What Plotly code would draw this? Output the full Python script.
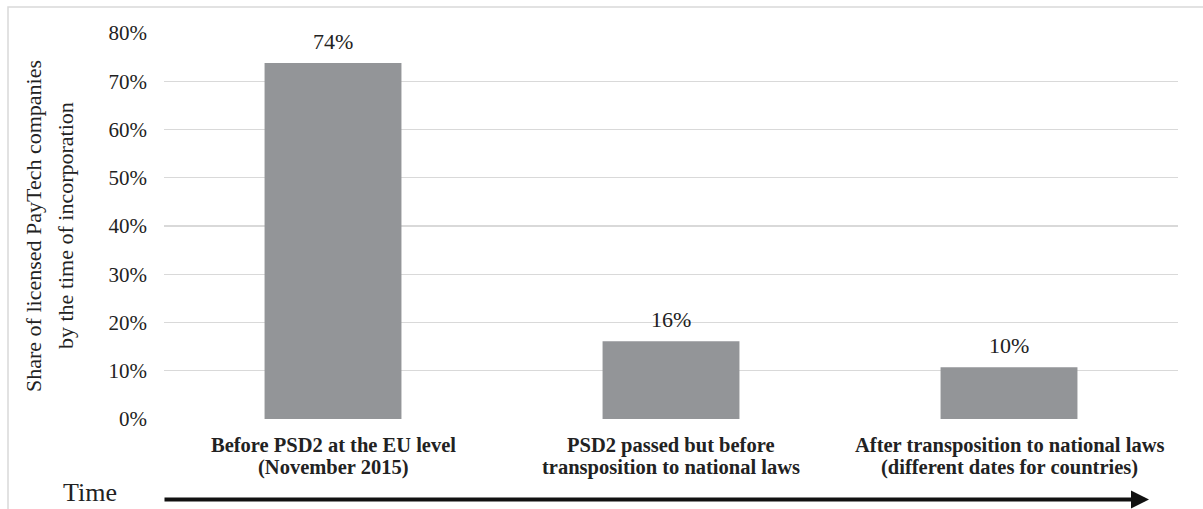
import plotly.graph_objects as go

cat_line1 = [
    "Before PSD2 at the EU level",
    "PSD2 passed but before",
    "After transposition to national laws",
]
cat_line2 = [
    "(November 2015)",
    "transposition to national laws",
    "(different dates for countries)",
]
categories = [a + " " + b for a, b in zip(cat_line1, cat_line2)]
shares = [0.738, 0.161, 0.107]
share_labels = ["74%", "16%", "10%"]
y_ticks = [0, 0.1, 0.2, 0.3, 0.4, 0.5, 0.6, 0.7, 0.8]
y_ticktext = ["0%", "10%", "20%", "30%", "40%", "50%", "60%", "70%", "80%"]

FONT = "Liberation Serif"
TXT = "#222222"

# plot area geometry (pixels)
L, R, T, B = 164, 1178, 33, 419.5
W, H = 1203, 509
PW, PH = R - L, B - T


def px(x):
    return (x - L) / PW


def py(y):
    return (B - y) / PH


fig = go.Figure(
    go.Bar(
        x=categories,
        y=shares,
        marker=dict(color="#939598", line=dict(width=0)),
        width=0.405,
        hoverinfo="skip",
    )
)

fig.update_layout(
    width=W,
    height=H,
    margin=dict(l=L, r=W - R, t=T, b=H - B),
    paper_bgcolor="white",
    plot_bgcolor="white",
    showlegend=False,
    font=dict(family=FONT, color=TXT),
    xaxis=dict(
        type="category",
        showgrid=False,
        showline=False,
        zeroline=False,
        showticklabels=False,
        ticks="",
    ),
    yaxis=dict(
        range=[0, 0.8],
        tickvals=y_ticks,
        ticktext=y_ticktext,
        showgrid=True,
        gridcolor="#d9d9d9",
        gridwidth=1.3,
        zeroline=False,
        showline=False,
        ticks="",
        tickfont=dict(family=FONT, size=21, color=TXT),
        ticklabelstandoff=16,
    ),
)

# value labels above bars
for c, v, lab in zip(categories, shares, share_labels):
    fig.add_annotation(
        x=c, y=v, xref="x", yref="y",
        text=lab, showarrow=False,
        xanchor="center", yanchor="bottom", yshift=7,
        font=dict(family=FONT, size=22, color=TXT),
    )

# category labels (two tight lines, bold)
for c, l1, l2 in zip(categories, cat_line1, cat_line2):
    fig.add_annotation(
        x=c, y=py(446), xref="x", yref="paper",
        text="<b>" + l1 + "</b>", showarrow=False,
        xanchor="center", yanchor="middle",
        font=dict(family=FONT, size=20.5, color=TXT),
    )
    fig.add_annotation(
        x=c, y=py(468), xref="x", yref="paper",
        text="<b>" + l2 + "</b>", showarrow=False,
        xanchor="center", yanchor="middle",
        font=dict(family=FONT, size=20.5, color=TXT),
    )

# y-axis title as two rotated lines
for xc, t in [(33, "Share of licensed PayTech companies"),
              (65, "by the time of incorporation")]:
    fig.add_annotation(
        text=t, xref="paper", yref="paper",
        x=px(xc), y=0.5,
        xanchor="center", yanchor="middle",
        textangle=-90, showarrow=False,
        font=dict(family=FONT, size=22, color=TXT),
    )

# Time label and arrow
fig.add_annotation(
    text="Time", xref="paper", yref="paper",
    x=px(62), y=py(508.5),
    xanchor="left", yanchor="bottom",
    borderpad=0,
    showarrow=False,
    font=dict(family=FONT, size=26, color=TXT),
)
fig.add_annotation(
    xref="paper", yref="paper",
    x=px(1149), y=py(500),
    ax=-(1149 - 163), ay=0,
    axref="pixel", ayref="pixel",
    text="", showarrow=True,
    arrowhead=2, arrowsize=0.9, arrowwidth=4,
    arrowcolor="#111111",
)

# light outer border
fig.add_shape(
    type="rect", xref="paper", yref="paper",
    x0=px(8), x1=px(1215), y0=py(530), y1=py(7),
    line=dict(color="#d9d9d9", width=1.5),
    layer="below",
)

fig.write_html(
    "out.html",
    config={"displayModeBar": False, "staticPlot": True},
    post_script="document.body.style.margin='0';",
)
